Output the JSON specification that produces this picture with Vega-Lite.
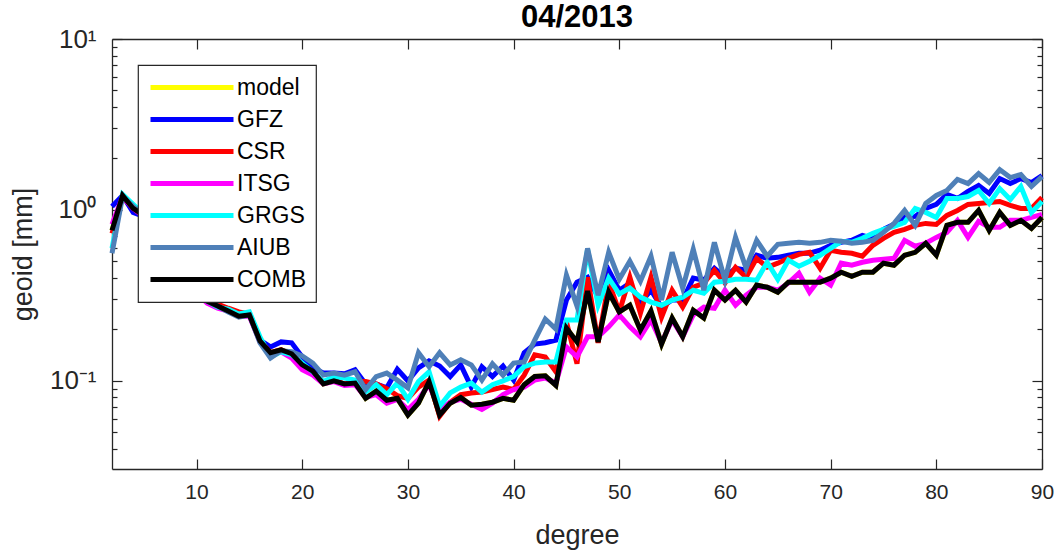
{
  "$schema": "https://vega.github.io/schema/vega-lite/v6.json",
  "width": 930,
  "height": 430,
  "autosize": {"type": "none"},
  "padding": {"left": 112, "top": 39, "right": 14, "bottom": 87},
  "background": "white",
  "title": {"text": "04/2013", "fontSize": 31, "fontWeight": "bold", "font": "Liberation Sans", "color": "black", "offset": -8, "anchor": "middle"},
  "config": {
    "view": {"stroke": null},
    "axis": {"domainColor": "#262626", "tickColor": "#262626", "labelColor": "#262626", "titleColor": "#262626", "labelFont": "Liberation Sans", "titleFont": "Liberation Sans", "grid": false, "domainWidth": 1.3, "tickWidth": 1.2, "titleFontWeight": "normal"},
    "legend": {"orient": "none", "legendX": 26, "legendY": 26, "padding": 10, "strokeColor": "#262626", "strokeWidth": 1.2, "fillColor": "white", "symbolType": "M-1,0H7.3", "symbolSize": 400, "symbolStrokeWidth": 5, "labelFontSize": 23, "labelFont": "Liberation Sans", "labelColor": "black", "labelOffset": 64, "rowPadding": 7, "labelLimit": 0, "cornerRadius": 0}
  },
  "data": {"values": [
    {"d":2,"GFZ":1.048,"CSR":0.729,"ITSG":0.823,"GRGS":0.596,"AIUB":0.558,"COMB":0.759,"model":0.759},
    {"d":3,"GFZ":1.215,"CSR":1.198,"ITSG":1.198,"GRGS":1.231,"AIUB":1.198,"COMB":1.215,"model":1.215},
    {"d":4,"GFZ":0.967,"CSR":1.020,"ITSG":1.020,"GRGS":1.077,"AIUB":1.048,"COMB":1.020,"model":1.020},
    {"d":5,"GFZ":0.916,"CSR":0.916,"ITSG":0.916,"GRGS":0.941,"AIUB":0.929,"COMB":0.929,"model":0.929},
    {"d":6,"GFZ":0.770,"CSR":0.770,"ITSG":0.770,"GRGS":0.791,"AIUB":0.780,"COMB":0.780,"model":0.780},
    {"d":7,"GFZ":0.655,"CSR":0.655,"ITSG":0.646,"GRGS":0.664,"AIUB":0.655,"COMB":0.664,"model":0.664},
    {"d":8,"GFZ":0.536,"CSR":0.543,"ITSG":0.528,"GRGS":0.543,"AIUB":0.536,"COMB":0.543,"model":0.543},
    {"d":9,"GFZ":0.456,"CSR":0.450,"ITSG":0.444,"GRGS":0.456,"AIUB":0.450,"COMB":0.456,"model":0.456},
    {"d":10,"GFZ":0.335,"CSR":0.330,"ITSG":0.326,"GRGS":0.335,"AIUB":0.330,"COMB":0.330,"model":0.330},
    {"d":11,"GFZ":0.297,"CSR":0.297,"ITSG":0.285,"GRGS":0.293,"AIUB":0.293,"COMB":0.293,"model":0.293},
    {"d":12,"GFZ":0.277,"CSR":0.281,"ITSG":0.266,"GRGS":0.270,"AIUB":0.274,"COMB":0.274,"model":0.274},
    {"d":13,"GFZ":0.259,"CSR":0.266,"ITSG":0.256,"GRGS":0.263,"AIUB":0.253,"COMB":0.256,"model":0.256},
    {"d":14,"GFZ":0.243,"CSR":0.253,"ITSG":0.239,"GRGS":0.246,"AIUB":0.236,"COMB":0.239,"model":0.239},
    {"d":15,"GFZ":0.246,"CSR":0.246,"ITSG":0.239,"GRGS":0.253,"AIUB":0.243,"COMB":0.243,"model":0.243},
    {"d":16,"GFZ":0.173,"CSR":0.173,"ITSG":0.169,"GRGS":0.181,"AIUB":0.167,"COMB":0.171,"model":0.171},
    {"d":17,"GFZ":0.158,"CSR":0.146,"ITSG":0.142,"GRGS":0.138,"AIUB":0.136,"COMB":0.146,"model":0.146},
    {"d":18,"GFZ":0.169,"CSR":0.152,"ITSG":0.148,"GRGS":0.148,"AIUB":0.150,"COMB":0.152,"model":0.152},
    {"d":19,"GFZ":0.167,"CSR":0.142,"ITSG":0.136,"GRGS":0.142,"AIUB":0.148,"COMB":0.144,"model":0.144},
    {"d":20,"GFZ":0.138,"CSR":0.122,"ITSG":0.116,"GRGS":0.127,"AIUB":0.140,"COMB":0.124,"model":0.124},
    {"d":21,"GFZ":0.119,"CSR":0.113,"ITSG":0.108,"GRGS":0.113,"AIUB":0.127,"COMB":0.114,"model":0.114},
    {"d":22,"GFZ":0.111,"CSR":0.097,"ITSG":0.096,"GRGS":0.099,"AIUB":0.108,"COMB":0.096,"model":0.096},
    {"d":23,"GFZ":0.111,"CSR":0.101,"ITSG":0.099,"GRGS":0.106,"AIUB":0.111,"COMB":0.100,"model":0.100},
    {"d":24,"GFZ":0.110,"CSR":0.096,"ITSG":0.094,"GRGS":0.104,"AIUB":0.108,"COMB":0.096,"model":0.096},
    {"d":25,"GFZ":0.116,"CSR":0.099,"ITSG":0.095,"GRGS":0.101,"AIUB":0.113,"COMB":0.097,"model":0.097},
    {"d":26,"GFZ":0.096,"CSR":0.099,"ITSG":0.080,"GRGS":0.086,"AIUB":0.089,"COMB":0.079,"model":0.079},
    {"d":27,"GFZ":0.096,"CSR":0.096,"ITSG":0.083,"GRGS":0.095,"AIUB":0.106,"COMB":0.087,"model":0.087},
    {"d":28,"GFZ":0.091,"CSR":0.090,"ITSG":0.074,"GRGS":0.083,"AIUB":0.111,"COMB":0.077,"model":0.077},
    {"d":29,"GFZ":0.117,"CSR":0.082,"ITSG":0.078,"GRGS":0.097,"AIUB":0.101,"COMB":0.079,"model":0.079},
    {"d":30,"GFZ":0.100,"CSR":0.079,"ITSG":0.068,"GRGS":0.078,"AIUB":0.091,"COMB":0.063,"model":0.063},
    {"d":31,"GFZ":0.119,"CSR":0.092,"ITSG":0.078,"GRGS":0.099,"AIUB":0.146,"COMB":0.074,"model":0.074},
    {"d":32,"GFZ":0.131,"CSR":0.101,"ITSG":0.095,"GRGS":0.113,"AIUB":0.121,"COMB":0.099,"model":0.099},
    {"d":33,"GFZ":0.122,"CSR":0.062,"ITSG":0.068,"GRGS":0.071,"AIUB":0.146,"COMB":0.063,"model":0.063},
    {"d":34,"GFZ":0.106,"CSR":0.075,"ITSG":0.075,"GRGS":0.085,"AIUB":0.124,"COMB":0.074,"model":0.074},
    {"d":35,"GFZ":0.124,"CSR":0.083,"ITSG":0.078,"GRGS":0.092,"AIUB":0.133,"COMB":0.080,"model":0.080},
    {"d":36,"GFZ":0.092,"CSR":0.085,"ITSG":0.073,"GRGS":0.097,"AIUB":0.124,"COMB":0.072,"model":0.072},
    {"d":37,"GFZ":0.121,"CSR":0.086,"ITSG":0.068,"GRGS":0.086,"AIUB":0.101,"COMB":0.073,"model":0.073},
    {"d":38,"GFZ":0.106,"CSR":0.089,"ITSG":0.074,"GRGS":0.095,"AIUB":0.126,"COMB":0.075,"model":0.075},
    {"d":39,"GFZ":0.122,"CSR":0.092,"ITSG":0.083,"GRGS":0.100,"AIUB":0.108,"COMB":0.079,"model":0.079},
    {"d":40,"GFZ":0.101,"CSR":0.089,"ITSG":0.089,"GRGS":0.106,"AIUB":0.127,"COMB":0.077,"model":0.077},
    {"d":41,"GFZ":0.146,"CSR":0.108,"ITSG":0.092,"GRGS":0.121,"AIUB":0.129,"COMB":0.095,"model":0.095},
    {"d":42,"GFZ":0.164,"CSR":0.142,"ITSG":0.101,"GRGS":0.127,"AIUB":0.173,"COMB":0.106,"model":0.106},
    {"d":43,"GFZ":0.167,"CSR":0.138,"ITSG":0.104,"GRGS":0.129,"AIUB":0.230,"COMB":0.107,"model":0.107},
    {"d":44,"GFZ":0.173,"CSR":0.113,"ITSG":0.097,"GRGS":0.129,"AIUB":0.201,"COMB":0.094,"model":0.094},
    {"d":45,"GFZ":0.297,"CSR":0.221,"ITSG":0.158,"GRGS":0.227,"AIUB":0.415,"COMB":0.204,"model":0.204},
    {"d":46,"GFZ":0.378,"CSR":0.126,"ITSG":0.138,"GRGS":0.227,"AIUB":0.274,"COMB":0.169,"model":0.169},
    {"d":47,"GFZ":0.404,"CSR":0.404,"ITSG":0.181,"GRGS":0.588,"AIUB":0.596,"COMB":0.335,"model":0.335},
    {"d":48,"GFZ":0.309,"CSR":0.167,"ITSG":0.181,"GRGS":0.277,"AIUB":0.317,"COMB":0.169,"model":0.169},
    {"d":49,"GFZ":0.444,"CSR":0.378,"ITSG":0.207,"GRGS":0.399,"AIUB":0.565,"COMB":0.330,"model":0.330},
    {"d":50,"GFZ":0.339,"CSR":0.253,"ITSG":0.243,"GRGS":0.322,"AIUB":0.393,"COMB":0.253,"model":0.253},
    {"d":51,"GFZ":0.373,"CSR":0.404,"ITSG":0.207,"GRGS":0.349,"AIUB":0.501,"COMB":0.277,"model":0.277},
    {"d":52,"GFZ":0.285,"CSR":0.249,"ITSG":0.181,"GRGS":0.309,"AIUB":0.383,"COMB":0.198,"model":0.198},
    {"d":53,"GFZ":0.339,"CSR":0.404,"ITSG":0.227,"GRGS":0.289,"AIUB":0.536,"COMB":0.256,"model":0.256},
    {"d":54,"GFZ":0.270,"CSR":0.236,"ITSG":0.167,"GRGS":0.277,"AIUB":0.297,"COMB":0.164,"model":0.164},
    {"d":55,"GFZ":0.297,"CSR":0.339,"ITSG":0.227,"GRGS":0.297,"AIUB":0.565,"COMB":0.233,"model":0.233},
    {"d":56,"GFZ":0.297,"CSR":0.270,"ITSG":0.181,"GRGS":0.309,"AIUB":0.349,"COMB":0.181,"model":0.181},
    {"d":57,"GFZ":0.399,"CSR":0.353,"ITSG":0.243,"GRGS":0.339,"AIUB":0.588,"COMB":0.259,"model":0.259},
    {"d":58,"GFZ":0.388,"CSR":0.373,"ITSG":0.270,"GRGS":0.326,"AIUB":0.339,"COMB":0.233,"model":0.233},
    {"d":59,"GFZ":0.456,"CSR":0.444,"ITSG":0.266,"GRGS":0.378,"AIUB":0.646,"COMB":0.339,"model":0.339},
    {"d":60,"GFZ":0.404,"CSR":0.373,"ITSG":0.339,"GRGS":0.383,"AIUB":0.388,"COMB":0.297,"model":0.297},
    {"d":61,"GFZ":0.456,"CSR":0.462,"ITSG":0.277,"GRGS":0.393,"AIUB":0.691,"COMB":0.339,"model":0.339},
    {"d":62,"GFZ":0.444,"CSR":0.404,"ITSG":0.317,"GRGS":0.393,"AIUB":0.456,"COMB":0.289,"model":0.289},
    {"d":63,"GFZ":0.543,"CSR":0.521,"ITSG":0.353,"GRGS":0.388,"AIUB":0.664,"COMB":0.363,"model":0.363},
    {"d":64,"GFZ":0.521,"CSR":0.462,"ITSG":0.353,"GRGS":0.494,"AIUB":0.536,"COMB":0.353,"model":0.353},
    {"d":65,"GFZ":0.528,"CSR":0.488,"ITSG":0.339,"GRGS":0.393,"AIUB":0.629,"COMB":0.330,"model":0.330},
    {"d":66,"GFZ":0.543,"CSR":0.521,"ITSG":0.373,"GRGS":0.508,"AIUB":0.638,"COMB":0.378,"model":0.378},
    {"d":67,"GFZ":0.558,"CSR":0.550,"ITSG":0.426,"GRGS":0.468,"AIUB":0.646,"COMB":0.378,"model":0.378},
    {"d":68,"GFZ":0.558,"CSR":0.565,"ITSG":0.330,"GRGS":0.501,"AIUB":0.638,"COMB":0.378,"model":0.378},
    {"d":69,"GFZ":0.581,"CSR":0.456,"ITSG":0.399,"GRGS":0.543,"AIUB":0.646,"COMB":0.378,"model":0.378},
    {"d":70,"GFZ":0.621,"CSR":0.581,"ITSG":0.363,"GRGS":0.596,"AIUB":0.664,"COMB":0.399,"model":0.399},
    {"d":71,"GFZ":0.646,"CSR":0.565,"ITSG":0.488,"GRGS":0.655,"AIUB":0.655,"COMB":0.432,"model":0.432},
    {"d":72,"GFZ":0.664,"CSR":0.558,"ITSG":0.475,"GRGS":0.646,"AIUB":0.638,"COMB":0.409,"model":0.409},
    {"d":73,"GFZ":0.710,"CSR":0.536,"ITSG":0.494,"GRGS":0.682,"AIUB":0.646,"COMB":0.432,"model":0.432},
    {"d":74,"GFZ":0.682,"CSR":0.621,"ITSG":0.508,"GRGS":0.729,"AIUB":0.664,"COMB":0.432,"model":0.432},
    {"d":75,"GFZ":0.770,"CSR":0.682,"ITSG":0.514,"GRGS":0.770,"AIUB":0.739,"COMB":0.488,"model":0.488},
    {"d":76,"GFZ":0.823,"CSR":0.739,"ITSG":0.521,"GRGS":0.801,"AIUB":0.834,"COMB":0.475,"model":0.475},
    {"d":77,"GFZ":0.904,"CSR":0.770,"ITSG":0.664,"GRGS":0.846,"AIUB":0.993,"COMB":0.543,"model":0.543},
    {"d":78,"GFZ":0.916,"CSR":0.812,"ITSG":0.613,"GRGS":1.020,"AIUB":0.812,"COMB":0.565,"model":0.565},
    {"d":79,"GFZ":1.020,"CSR":0.834,"ITSG":0.638,"GRGS":0.967,"AIUB":1.091,"COMB":0.638,"model":0.638},
    {"d":80,"GFZ":1.077,"CSR":0.823,"ITSG":0.691,"GRGS":0.904,"AIUB":1.215,"COMB":0.543,"model":0.543},
    {"d":81,"GFZ":1.231,"CSR":0.929,"ITSG":0.739,"GRGS":1.167,"AIUB":1.299,"COMB":0.812,"model":0.812},
    {"d":82,"GFZ":1.167,"CSR":0.993,"ITSG":0.869,"GRGS":1.167,"AIUB":1.506,"COMB":0.846,"model":0.846},
    {"d":83,"GFZ":1.282,"CSR":1.077,"ITSG":0.691,"GRGS":1.198,"AIUB":1.427,"COMB":0.846,"model":0.846},
    {"d":84,"GFZ":1.389,"CSR":1.091,"ITSG":0.857,"GRGS":1.299,"AIUB":1.632,"COMB":0.993,"model":0.993},
    {"d":85,"GFZ":1.248,"CSR":1.106,"ITSG":0.791,"GRGS":1.091,"AIUB":1.447,"COMB":0.759,"model":0.759},
    {"d":86,"GFZ":1.526,"CSR":1.121,"ITSG":0.791,"GRGS":1.334,"AIUB":1.722,"COMB":0.967,"model":0.967},
    {"d":87,"GFZ":1.427,"CSR":1.062,"ITSG":0.869,"GRGS":1.151,"AIUB":1.547,"COMB":0.812,"model":0.812},
    {"d":88,"GFZ":1.526,"CSR":1.020,"ITSG":0.869,"GRGS":1.371,"AIUB":1.610,"COMB":0.869,"model":0.869},
    {"d":89,"GFZ":1.447,"CSR":1.020,"ITSG":0.904,"GRGS":0.967,"AIUB":1.371,"COMB":0.780,"model":0.780},
    {"d":90,"GFZ":1.589,"CSR":1.183,"ITSG":0.941,"GRGS":1.121,"AIUB":1.567,"COMB":0.904,"model":0.904}
  ]},
  "layer": [
    {
      "mark": {"type": "line", "strokeWidth": 5},
      "encoding": {
        "x": {"field": "d", "type": "quantitative", "scale": {"domain": [2, 90], "nice": false, "zero": false},
          "axis": {"orient": "bottom", "values": [10, 20, 30, 40, 50, 60, 70, 80, 90], "tickSize": -10, "labelPadding": 22, "labelFontSize": 21, "labelFlush": false, "labelOverlap": false, "title": "degree", "titleFontSize": 27, "titlePadding": 20}},
        "y": {"field": "model", "type": "quantitative", "scale": {"type": "log", "domain": [0.0305, 10], "nice": false},
          "axis": {"orient": "left", "values": [0.04, 0.05, 0.06, 0.07, 0.08, 0.09, 0.1, 0.2, 0.3, 0.4, 0.5, 0.6, 0.7, 0.8, 0.9, 1, 2, 3, 4, 5, 6, 7, 8, 9, 10],
            "labelExpr": "datum.value === 10 ? '10¹' : datum.value === 1 ? '10⁰' : datum.value === 0.1 ? '10⁻¹' : ''",
            "tickSize": {"condition": {"test": "datum.value === 0.1 || datum.value === 1 || datum.value === 10", "value": -10}, "value": -5},
            "labelPadding": 26, "labelFontSize": 26, "labelOverlap": false, "labelBound": false, "labelFlush": false, "title": "geoid [mm]", "titleFontSize": 27, "titlePadding": 12}},
        "color": {"datum": "model", "type": "nominal", "title": null,
          "scale": {"domain": ["model", "GFZ", "CSR", "ITSG", "GRGS", "AIUB", "COMB"], "range": ["#FFFF00", "#0000FF", "#FF0000", "#FF00FF", "#00FFFF", "#4F80B8", "#000000"]}}
      }
    },
    {
      "mark": {"type": "line", "strokeWidth": 5},
      "encoding": {
        "x": {"field": "d", "type": "quantitative", "scale": {"domain": [2, 90], "nice": false, "zero": false},
          "axis": {"orient": "top", "values": [10, 20, 30, 40, 50, 60, 70, 80, 90], "tickSize": -10, "labels": false, "title": null}},
        "y": {"field": "GFZ", "type": "quantitative", "scale": {"type": "log", "domain": [0.0305, 10], "nice": false},
          "axis": {"orient": "right", "values": [0.04, 0.05, 0.06, 0.07, 0.08, 0.09, 0.1, 0.2, 0.3, 0.4, 0.5, 0.6, 0.7, 0.8, 0.9, 1, 2, 3, 4, 5, 6, 7, 8, 9, 10],
            "tickSize": {"condition": {"test": "datum.value === 0.1 || datum.value === 1 || datum.value === 10", "value": -10}, "value": -5},
            "labels": false, "title": null}},
        "color": {"datum": "GFZ", "type": "nominal", "title": null}
      }
    },
    {
      "mark": {"type": "line", "strokeWidth": 5},
      "encoding": {
        "x": {"field": "d", "type": "quantitative", "axis": null},
        "y": {"field": "CSR", "type": "quantitative", "axis": null},
        "color": {"datum": "CSR", "type": "nominal", "title": null}
      }
    },
    {
      "mark": {"type": "line", "strokeWidth": 5},
      "encoding": {
        "x": {"field": "d", "type": "quantitative", "axis": null},
        "y": {"field": "ITSG", "type": "quantitative", "axis": null},
        "color": {"datum": "ITSG", "type": "nominal", "title": null}
      }
    },
    {
      "mark": {"type": "line", "strokeWidth": 5},
      "encoding": {
        "x": {"field": "d", "type": "quantitative", "axis": null},
        "y": {"field": "GRGS", "type": "quantitative", "axis": null},
        "color": {"datum": "GRGS", "type": "nominal", "title": null}
      }
    },
    {
      "mark": {"type": "line", "strokeWidth": 5},
      "encoding": {
        "x": {"field": "d", "type": "quantitative", "axis": null},
        "y": {"field": "AIUB", "type": "quantitative", "axis": null},
        "color": {"datum": "AIUB", "type": "nominal", "title": null}
      }
    },
    {
      "mark": {"type": "line", "strokeWidth": 5},
      "encoding": {
        "x": {"field": "d", "type": "quantitative", "axis": null},
        "y": {"field": "COMB", "type": "quantitative", "axis": null},
        "color": {"datum": "COMB", "type": "nominal", "title": null}
      }
    }
  ],
  "resolve": {"axis": {"x": "independent", "y": "independent"}}
}
